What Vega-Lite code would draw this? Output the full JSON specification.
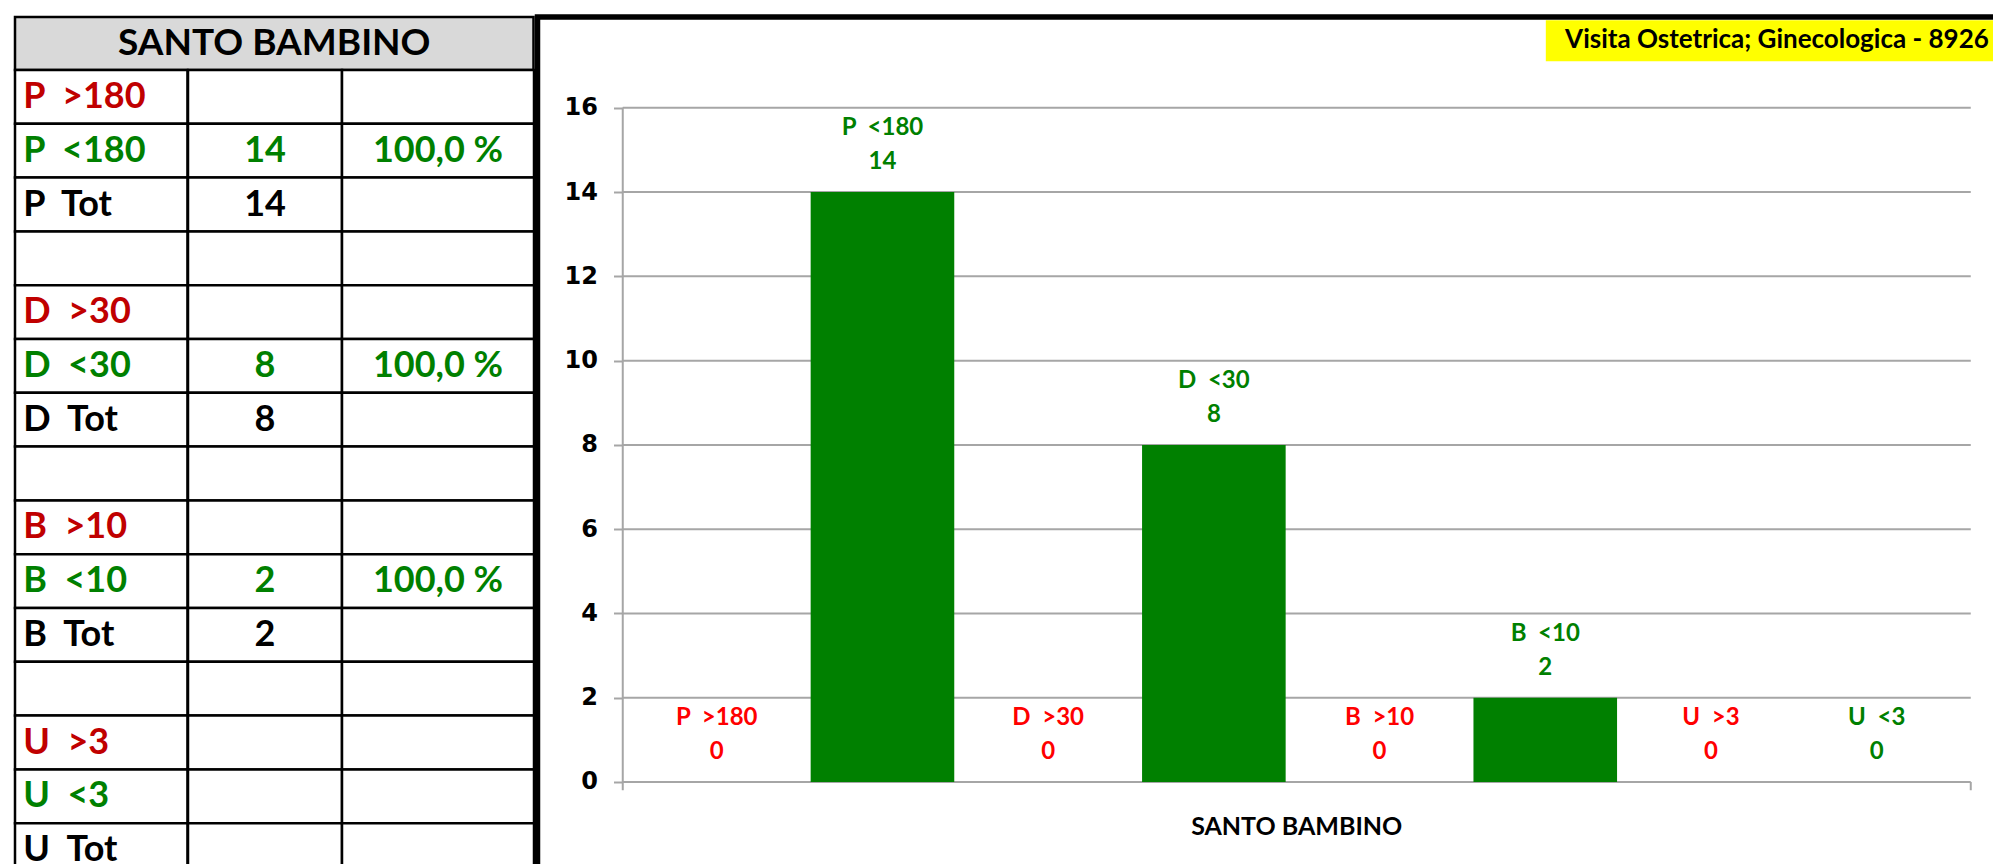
{
  "$schema": "https://vega.github.io/schema/vega-lite/v6.json",
  "background": "#ffffff",
  "padding": {"left": 13, "top": 14, "right": 0, "bottom": 0},
  "bounds": "full",
  "spacing": -1.5,
  "config": {"view": {"stroke": null}, "font": "Lato"},
  "resolve": {"scale": {"color": "independent"}},
  "datasets": {
    "tab": [
      {"r": 1, "label": "P\u00a0 >180", "k": "gt"},
      {"r": 2, "label": "P\u00a0 <180", "k": "lt", "n": 14, "p": "100,0 %"},
      {"r": 3, "label": "P\u00a0 Tot", "k": "tot", "n": 14},
      {"r": 4, "label": "", "k": "none"},
      {"r": 5, "label": "D\u00a0 >30", "k": "gt"},
      {"r": 6, "label": "D\u00a0 <30", "k": "lt", "n": 8, "p": "100,0 %"},
      {"r": 7, "label": "D\u00a0 Tot", "k": "tot", "n": 8},
      {"r": 8, "label": "", "k": "none"},
      {"r": 9, "label": "B\u00a0 >10", "k": "gt"},
      {"r": 10, "label": "B\u00a0 <10", "k": "lt", "n": 2, "p": "100,0 %"},
      {"r": 11, "label": "B\u00a0 Tot", "k": "tot", "n": 2},
      {"r": 12, "label": "", "k": "none"},
      {"r": 13, "label": "U\u00a0 >3", "k": "gt"},
      {"r": 14, "label": "U\u00a0 <3", "k": "lt"},
      {"r": 15, "label": "U\u00a0 Tot", "k": "tot"}
    ],
    "bars": [
      {"cat": "P\u00a0 >180", "v": 0, "k": "gt"},
      {"cat": "P\u00a0 <180", "v": 14, "k": "lt"},
      {"cat": "D\u00a0 >30", "v": 0, "k": "gt"},
      {"cat": "D\u00a0 <30", "v": 8, "k": "lt"},
      {"cat": "B\u00a0 >10", "v": 0, "k": "gt"},
      {"cat": "B\u00a0 <10", "v": 2, "k": "lt"},
      {"cat": "U\u00a0 >3", "v": 0, "k": "gt"},
      {"cat": "U\u00a0 <3", "v": 0, "k": "lt"}
    ],
    "ticks": [{"t": 0}, {"t": 2}, {"t": 4}, {"t": 6}, {"t": 8}, {"t": 10}, {"t": 12}, {"t": 14}, {"t": 16}],
    "hdr": [{"t": "SANTO BAMBINO"}],
    "xt": [{"t": "SANTO BAMBINO"}],
    "ttl": [{"t": "Visita Ostetrica; Ginecologica - 8926"}],
    "one": [{"o": 1}]
  },
  "hconcat": [
    {
      "spacing": 0,
      "bounds": "flush",
      "vconcat": [
        {
          "width": 518.5,
          "height": 53,
          "view": {"fill": "#D9D9D9", "stroke": "#000000", "strokeWidth": 2.5},
          "data": {"name": "hdr"},
          "mark": {"type": "text", "font": "Lato", "fontWeight": "bold", "fontSize": 37, "color": "#000000", "baseline": "middle", "align": "center"},
          "encoding": {"text": {"field": "t", "type": "nominal"}}
        },
        {
          "spacing": 0,
          "bounds": "flush",
          "hconcat": [
            {
              "width": 172.5,
              "height": 807,
              "data": {"name": "tab"},
              "layer": [
                {
                  "mark": {"type": "rect", "fill": "#ffffff", "stroke": "#000000", "strokeWidth": 2.5},
                  "encoding": {"y": {"field": "r", "type": "ordinal", "axis": null, "scale": {"paddingInner": 0, "paddingOuter": 0}}}
                },
                {
                  "mark": {"type": "text", "font": "Lato", "fontWeight": "bold", "fontSize": 36, "align": "left", "baseline": "middle", "dx": -78},
                  "encoding": {
                    "y": {"field": "r", "type": "ordinal", "axis": null},
                    "text": {"field": "label", "type": "nominal"},
                    "color": {"field": "k", "type": "nominal", "legend": null, "scale": {"domain": ["gt", "lt", "tot", "none"], "range": ["#C00000", "#008000", "#000000", "#000000"]}}
                  }
                }
              ]
            },
            {
              "width": 154,
              "height": 807,
              "data": {"name": "tab"},
              "layer": [
                {
                  "mark": {"type": "rect", "fill": "#ffffff", "stroke": "#000000", "strokeWidth": 2.5},
                  "encoding": {"y": {"field": "r", "type": "ordinal", "axis": null, "scale": {"paddingInner": 0, "paddingOuter": 0}}}
                },
                {
                  "transform": [{"filter": "isValid(datum.n)"}],
                  "mark": {"type": "text", "font": "Lato", "fontWeight": "bold", "fontSize": 36, "align": "center", "baseline": "middle"},
                  "encoding": {
                    "y": {"field": "r", "type": "ordinal", "axis": null},
                    "text": {"field": "n", "type": "nominal"},
                    "color": {"field": "k", "type": "nominal", "legend": null, "scale": {"domain": ["gt", "lt", "tot", "none"], "range": ["#C00000", "#008000", "#000000", "#000000"]}}
                  }
                }
              ]
            },
            {
              "width": 192,
              "height": 807,
              "data": {"name": "tab"},
              "layer": [
                {
                  "mark": {"type": "rect", "fill": "#ffffff", "stroke": "#000000", "strokeWidth": 2.5},
                  "encoding": {"y": {"field": "r", "type": "ordinal", "axis": null, "scale": {"paddingInner": 0, "paddingOuter": 0}}}
                },
                {
                  "transform": [{"filter": "isValid(datum.p)"}],
                  "mark": {"type": "text", "font": "Lato", "fontWeight": "bold", "fontSize": 36, "align": "center", "baseline": "middle", "color": "#008000"},
                  "encoding": {
                    "y": {"field": "r", "type": "ordinal", "axis": null},
                    "text": {"field": "p", "type": "nominal"}
                  }
                }
              ]
            }
          ]
        }
      ]
    },
    {
      "width": 1470,
      "height": 870,
      "view": {"stroke": "#000000", "strokeWidth": 5.5},
      "data": {"name": "bars"},
      "layer": [
        {
          "data": {"name": "ticks"},
          "mark": {"type": "rule", "color": "#A6A6A6", "strokeWidth": 2},
          "encoding": {
            "y": {"field": "t", "type": "quantitative"},
            "x": {"datum": "P\u00a0 >180", "type": "nominal", "bandPosition": -0.1546, "axis": null},
            "x2": {"datum": "U\u00a0 <3", "bandPosition": 1.1553}
          }
        },
        {
          "mark": {"type": "bar"},
          "encoding": {
            "x": {
              "field": "cat", "type": "nominal", "sort": null,
              "scale": {"domain": ["P\u00a0 >180", "P\u00a0 <180", "D\u00a0 >30", "D\u00a0 <30", "B\u00a0 >10", "B\u00a0 <10", "U\u00a0 >3", "U\u00a0 <3"], "paddingInner": 0.13337, "paddingOuter": 0.50242, "align": 0.6454, "round": false},
              "axis": null
            },
            "y": {
              "field": "v", "type": "quantitative",
              "scale": {"domain": [-2.4934, 18.156], "nice": false, "zero": false},
              "axis": {"orient": "left", "offset": -85, "values": [0, 2, 4, 6, 8, 10, 12, 14, 16], "domain": false, "grid": false, "ticks": true, "tickColor": "#A6A6A6", "tickSize": 9, "tickWidth": 2, "labels": true, "labelFont": "DejaVu Sans", "labelFontWeight": "bold", "labelFontSize": 24, "labelColor": "#000000", "labelPadding": 16, "title": null}
            },
            "y2": {"datum": 0},
            "fill": {"field": "k", "type": "nominal", "legend": null, "scale": {"domain": ["gt", "lt"], "range": ["#FF0000", "#008000"]}}
          }
        },
        {
          "data": {"name": "one"},
          "mark": {"type": "rule", "color": "#A6A6A6", "strokeWidth": 2},
          "encoding": {
            "x": {"datum": "P\u00a0 >180", "type": "nominal", "bandPosition": -0.1546, "axis": null},
            "y": {"datum": 16, "type": "quantitative"},
            "y2": {"datum": -0.197}
          }
        },
        {
          "data": {"name": "one"},
          "mark": {"type": "rule", "color": "#A6A6A6", "strokeWidth": 2},
          "encoding": {
            "x": {"datum": "U\u00a0 <3", "type": "nominal", "bandPosition": 1.1553, "axis": null},
            "y": {"datum": 0, "type": "quantitative"},
            "y2": {"datum": -0.197}
          }
        },
        {
          "mark": {"type": "text", "font": "Lato", "fontWeight": "bold", "fontSize": 24, "align": "center", "baseline": "middle", "dy": -30},
          "encoding": {
            "x": {"field": "cat", "type": "nominal", "sort": null, "axis": null},
            "y": {"field": "v", "type": "quantitative"},
            "text": {"field": "v", "type": "nominal"},
            "fill": {"field": "k", "type": "nominal", "legend": null}
          }
        },
        {
          "mark": {"type": "text", "font": "Lato", "fontWeight": "bold", "fontSize": 24, "align": "center", "baseline": "middle", "dy": -64},
          "encoding": {
            "x": {"field": "cat", "type": "nominal", "sort": null, "axis": null},
            "y": {"field": "v", "type": "quantitative"},
            "text": {"field": "cat", "type": "nominal"},
            "fill": {"field": "k", "type": "nominal", "legend": null}
          }
        },
        {
          "data": {"name": "xt"},
          "mark": {"type": "text", "font": "Lato", "fontWeight": "bold", "fontSize": 25, "align": "center", "baseline": "middle", "color": "#000000"},
          "encoding": {
            "x": {"datum": "D\u00a0 <30", "type": "nominal", "bandPosition": 1.077, "axis": null},
            "y": {"datum": -1.075, "type": "quantitative"},
            "text": {"field": "t", "type": "nominal"}
          }
        },
        {
          "data": {"name": "one"},
          "mark": {"type": "rect", "fill": "#FFFF00"},
          "encoding": {
            "x": {"datum": "U\u00a0 >3", "type": "nominal", "bandPosition": -0.65, "axis": null},
            "x2": {"datum": "U\u00a0 <3", "bandPosition": 2},
            "y": {"datum": 18.079, "type": "quantitative"},
            "y2": {"datum": 17.106}
          }
        },
        {
          "data": {"name": "ttl"},
          "mark": {"type": "text", "font": "Lato", "fontWeight": "bold", "fontSize": 26, "align": "right", "baseline": "middle", "color": "#000000"},
          "encoding": {
            "x": {"datum": "U\u00a0 <3", "type": "nominal", "bandPosition": 1.281, "axis": null},
            "y": {"datum": 17.621, "type": "quantitative"},
            "text": {"field": "t", "type": "nominal"}
          }
        }
      ]
    }
  ]
}
